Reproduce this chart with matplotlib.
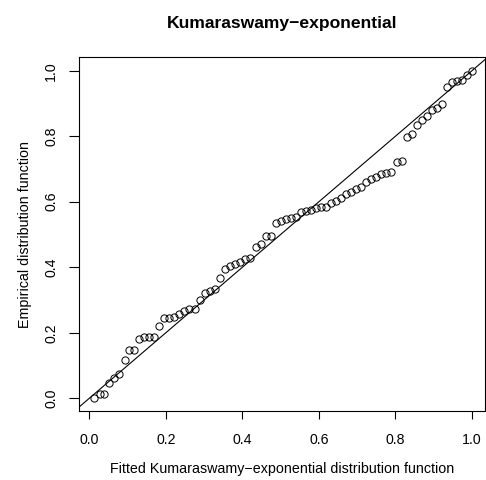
import matplotlib
matplotlib.use("Agg")
import matplotlib.pyplot as plt

plt.rcParams["font.family"] = ["Liberation Sans", "DejaVu Sans"]

# fitted CDF (x) vs empirical CDF (y)
fitted = [0.013, 0.027, 0.039, 0.052, 0.065, 0.078, 0.092, 0.105, 0.118, 0.131,
          0.144, 0.157, 0.170, 0.183, 0.196, 0.209, 0.222, 0.235, 0.248, 0.261,
          0.276, 0.289, 0.302, 0.315, 0.329, 0.342, 0.355, 0.368, 0.381, 0.394,
          0.407, 0.420, 0.436, 0.449, 0.461, 0.474, 0.488, 0.501, 0.514, 0.527,
          0.540, 0.553, 0.566, 0.579, 0.592, 0.606, 0.619, 0.632, 0.645, 0.658,
          0.671, 0.684, 0.697, 0.710, 0.723, 0.736, 0.749, 0.762, 0.775, 0.788,
          0.803, 0.816, 0.829, 0.842, 0.856, 0.869, 0.882, 0.895, 0.908, 0.921,
          0.934, 0.947, 0.960, 0.973, 0.986, 0.999]
empirical = [0.002, 0.012, 0.012, 0.048, 0.063, 0.074, 0.117, 0.147, 0.147, 0.181,
             0.188, 0.188, 0.188, 0.222, 0.246, 0.246, 0.247, 0.257, 0.266, 0.273,
             0.273, 0.300, 0.322, 0.328, 0.333, 0.366, 0.394, 0.404, 0.410, 0.415,
             0.424, 0.427, 0.463, 0.470, 0.495, 0.496, 0.534, 0.541, 0.546, 0.550,
             0.554, 0.568, 0.573, 0.575, 0.582, 0.584, 0.584, 0.595, 0.602, 0.611,
             0.623, 0.631, 0.638, 0.644, 0.661, 0.669, 0.676, 0.684, 0.689, 0.692,
             0.721, 0.724, 0.799, 0.807, 0.834, 0.850, 0.862, 0.880, 0.885, 0.897,
             0.949, 0.966, 0.969, 0.972, 0.987, 1.000]

ticks = [0.0, 0.2, 0.4, 0.6, 0.8, 1.0]
tick_labels = ["0.0", "0.2", "0.4", "0.6", "0.8", "1.0"]

fig = plt.figure(figsize=(4.86, 4.80), dpi=100)
ax = fig.add_axes([79 / 486, 69 / 480, 406 / 486, 354 / 480])

ax.plot(fitted, empirical, "o", mfc="none", mec="black", ms=5.2, mew=0.7)
ax.axline((0, 0), (1, 1), color="black", lw=0.8)

ax.set_xlim(-0.0269, 1.034)
ax.set_ylim(-0.0388, 1.0418)
ax.set_xticks(ticks)
ax.set_xticklabels(tick_labels)
ax.set_yticks(ticks)
ax.set_yticklabels(tick_labels, rotation=90, va="center")
ax.tick_params(axis="x", length=6, width=0.8, pad=9.5, labelsize=10.2)
ax.tick_params(axis="y", length=7, width=0.8, pad=8, labelsize=10.2)
for s in ax.spines.values():
    s.set_linewidth(0.8)

ax.set_xlabel("Fitted Kumaraswamy\u2212exponential distribution function",
              fontsize=10.3, labelpad=11)
ax.set_ylabel("Empirical distribution function", fontsize=10.3, labelpad=9)
ax.set_title("Kumaraswamy\u2212exponential", fontsize=12.6, fontweight="bold", pad=21)

fig.savefig("out.png", dpi=100)
